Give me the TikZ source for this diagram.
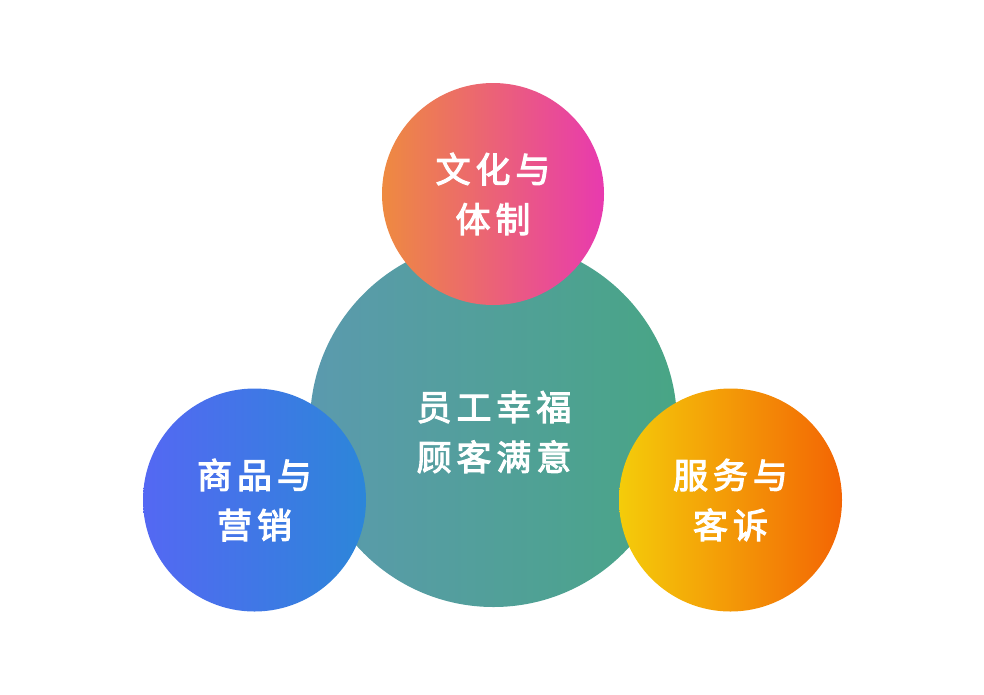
\documentclass[tikz,border=0pt]{standalone}
\usepackage{fontspec}
\newfontfamily\cjk{Noto Sans CJK SC}[LetterSpace=14,FakeBold=3]
\usetikzlibrary{shadings}
\definecolor{bigL}{HTML}{5B9AAE}
\definecolor{bigR}{HTML}{48A585}
\definecolor{topL}{HTML}{EE8A40}
\definecolor{topR}{HTML}{E83AAF}
\definecolor{lftL}{HTML}{5468F3}
\definecolor{lftR}{HTML}{2C86D9}
\definecolor{rgtL}{HTML}{F4CC0A}
\definecolor{rgtR}{HTML}{F36504}
\tikzset{
  ball/.style={circle, inner sep=0pt, text=white, align=center,
    font=\cjk\fontsize{35}{50}\selectfont},
  txt/.style={inner sep=0pt, text=white, align=center,
    font=\cjk\fontsize{35}{50}\selectfont},
}
\begin{document}
\begin{tikzpicture}[x=1pt,y=-1pt]
\useasboundingbox (0,0) rectangle (984,694);
\node[ball, minimum size=367pt, left color=bigL, right color=bigR] (core) at (493.5,423.5) {};
\node[txt] (coretext) at (494,432) {员工幸福\\顾客满意};
\node[ball, minimum size=222pt, left color=topL, right color=topR] (culture) at (493,194) {文化与\\体制};
\node[ball, minimum size=223pt, left color=lftL, right color=lftR] (goods) at (254.5,500) {商品与\\营销};
\node[ball, minimum size=223pt, left color=rgtL, right color=rgtR] (service) at (730.5,500) {服务与\\客诉};
\end{tikzpicture}
\end{document}
